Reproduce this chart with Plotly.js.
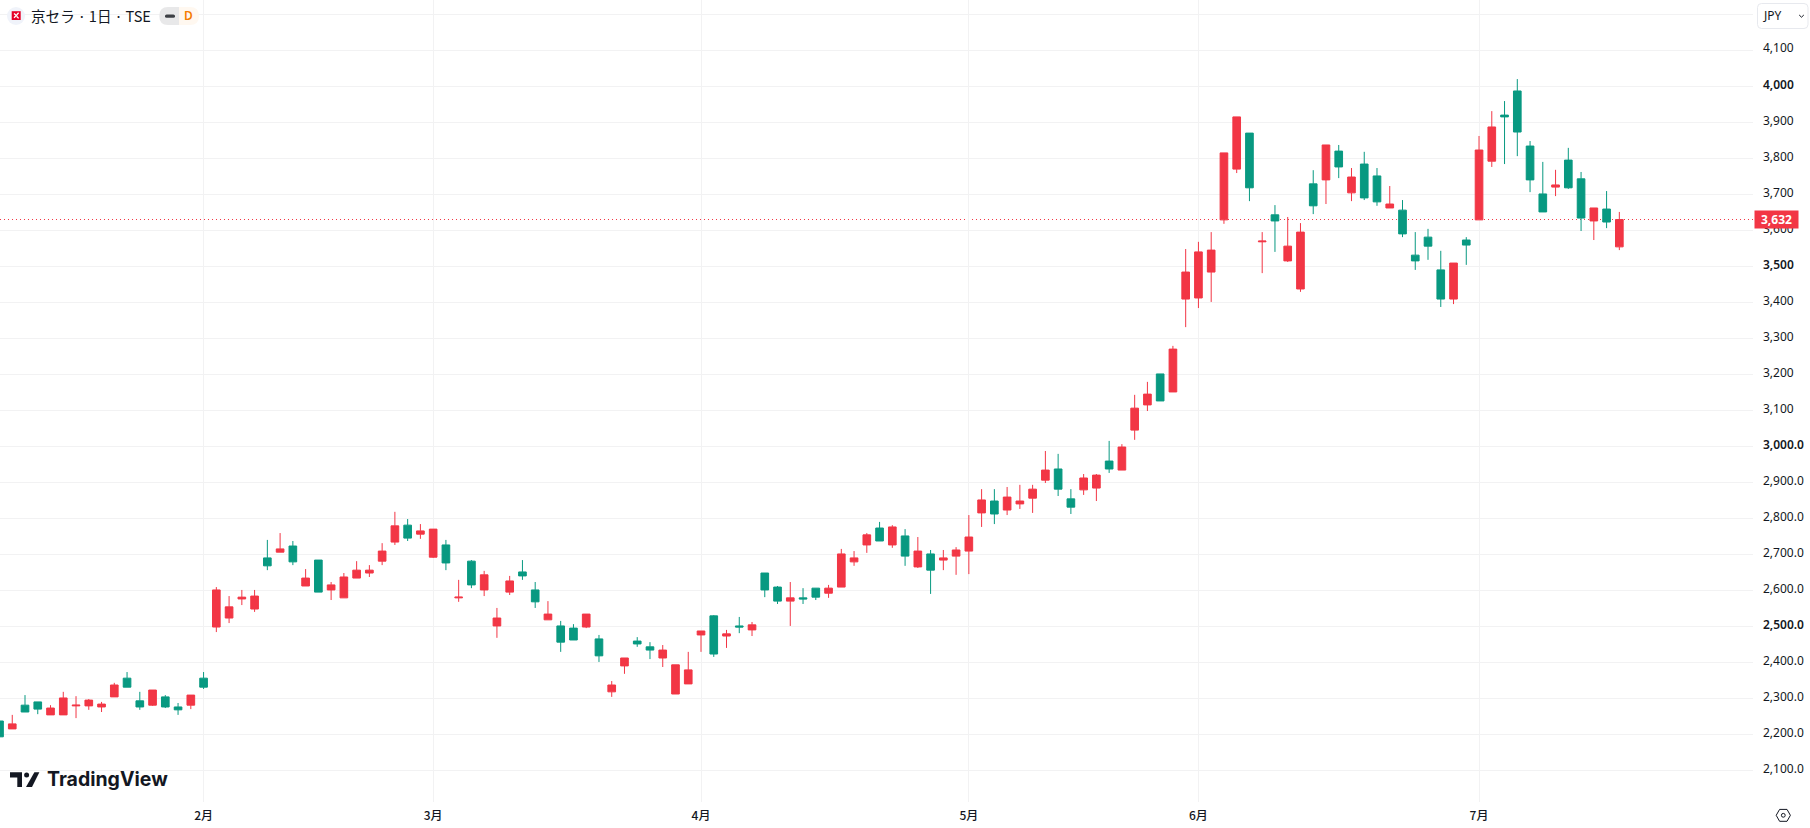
<!DOCTYPE html>
<html>
<head>
<meta charset="utf-8">
<script src="https://cdn.plot.ly/plotly-3.0.1.min.js"></script>
<style>html,body{margin:0;padding:0;background:#fff;overflow:hidden}#chart{width:1810px;height:828px}</style>
</head>
<body>
<div id="chart"></div>
<script>
const open = [
2237,2215,2281,2290,2254,2254,2279,2279,2276,2304,
2356,2293,2281,2304,2276,2281,2356,2498,2523,2576,
2548,2690,2706,2723,2612,2684,2601,2579,2634,2648,
2681,2734,2781,2756,2692,2726,2579,2681,2601,2501,
2595,2651,2601,2518,2501,2495,2498,2465,2318,2390,
2459,2443,2412,2312,2340,2476,2529,2473,2501,2490,
2648,2609,2570,2579,2606,2592,2609,2679,2726,2773,
2726,2751,2665,2701,2684,2695,2709,2815,2848,2823,
2840,2856,2906,2937,2854,2879,2884,2959,2934,3045,
3115,3201,3151,3409,3412,3484,3629,3770,3870,3568,
3643,3515,3437,3729,3740,3820,3704,3784,3751,3662,
3656,3531,3581,3490,3409,3573,3629,3792,3920,3987,
3834,3701,3720,3795,3743,3626,3659,3554];
const close = [
2193,2229,2262,2270,2273,2301,2281,2295,2284,2337,
2331,2276,2323,2276,2268,2309,2331,2601,2554,2581,
2584,2668,2715,2679,2634,2595,2615,2637,2656,2656,
2709,2779,2745,2765,2770,2676,2581,2615,2643,2523,
2626,2640,2568,2534,2456,2462,2534,2418,2337,2412,
2451,2434,2434,2393,2379,2487,2423,2479,2498,2504,
2601,2570,2579,2576,2581,2606,2701,2690,2754,2737,
2776,2695,2709,2656,2690,2712,2748,2851,2812,2859,
2848,2881,2934,2881,2831,2912,2920,2937,2998,3106,
3145,3126,3270,3484,3540,3545,3815,3915,3718,3570,
3626,3556,3595,3668,3837,3776,3748,3690,3679,3673,
3590,3515,3556,3409,3509,3559,3823,3887,3915,3873,
3740,3651,3726,3718,3634,3662,3623,3630];
const high = [
2237,2254,2309,2290,2281,2318,2306,2298,2290,2343,
2373,2318,2323,2309,2287,2309,2373,2609,2584,2601,
2601,2740,2759,2737,2659,2684,2623,2648,2681,2670,
2731,2818,2798,2784,2770,2740,2629,2684,2654,2551,
2640,2684,2623,2570,2515,2506,2534,2476,2348,2412,
2470,2456,2448,2393,2429,2487,2531,2490,2526,2512,
2648,2612,2623,2606,2606,2615,2715,2709,2759,2790,
2781,2770,2748,2712,2712,2720,2809,2881,2881,2887,
2893,2893,2987,2979,2881,2923,2923,3015,3006,3143,
3179,3201,3279,3548,3568,3595,3815,3915,3870,3595,
3670,3637,3620,3767,3837,3837,3773,3818,3773,3723,
3684,3595,3604,3543,3509,3581,3862,3931,3959,4020,
3848,3790,3768,3829,3762,3662,3709,3651];
const low = [
2192,2215,2262,2256,2254,2254,2245,2268,2262,2304,
2331,2268,2279,2273,2254,2270,2326,2484,2509,2559,
2540,2656,2706,2670,2612,2595,2573,2579,2634,2637,
2670,2726,2737,2743,2690,2656,2568,2606,2584,2468,
2587,2629,2551,2518,2429,2462,2495,2401,2304,2368,
2443,2409,2387,2312,2340,2429,2415,2440,2481,2473,
2581,2562,2501,2562,2573,2579,2609,2668,2704,2737,
2718,2668,2662,2590,2656,2643,2645,2776,2784,2809,
2826,2815,2898,2862,2812,2865,2848,2926,2934,3018,
3098,3126,3151,3331,3384,3401,3618,3759,3681,3481,
3540,3512,3429,3645,3673,3745,3681,3684,3668,3662,
3581,3490,3518,3387,3395,3504,3629,3776,3784,3806,
3706,3651,3695,3715,3598,3573,3606,3545];

const monthBars = [16,34,55,76,94,116];
const monthLabels = ['2月','3月','4月','5月','6月','7月'];
const priceTicks = [4200,4100,4000,3900,3800,3700,3600,3500,3400,3300,3200,3100,3000,2900,2800,2700,2600,2500,2400,2300,2200,2100];
const strong = s => '<span style="font-weight:600">' + s + '</span>';
const priceLabels = ['','4,100',strong('4,000'),'3,900','3,800','3,700','3,600',strong('3,500'),'3,400','3,300','3,200','3,100',strong('3,000.0'),'2,900.0','2,800.0','2,700.0','2,600.0',strong('2,500.0'),'2,400.0','2,300.0','2,200.0','2,100.0'];
const lastLine = 3630;
const lastLabel = '3,632';
const headerText = '京セラ\u2009·\u20091日\u2009·\u2009TSE';

const RED = '#F23645', GREEN = '#089981', INK = '#131722', GRID = '#f2f2f3';
const PW = 1753, PH = 802;           // plot area in page pixels
const MR = 1810 - PW, MB = 828 - PH;
const px = x => x / PW, py = y => 1 - y / PH;
const pt = (x, y) => px(x) + ' ' + py(y);

function pathShape(d, fill, line, lw) {
  return {type:'path', xref:'paper', yref:'paper', path:d, fillcolor:fill||'rgba(0,0,0,0)',
          line:{color:line||'rgba(0,0,0,0)', width:lw||0}, layer:'above'};
}
function roundRect(x0,y0,x1,y1,r){
  return 'M'+pt(x0+r,y0)+' L'+pt(x1-r,y0)+' Q'+pt(x1,y0)+' '+pt(x1,y0+r)+' L'+pt(x1,y1-r)+' Q'+pt(x1,y1)+' '+pt(x1-r,y1)+
         ' L'+pt(x0+r,y1)+' Q'+pt(x0,y1)+' '+pt(x0,y1-r)+' L'+pt(x0,y0+r)+' Q'+pt(x0,y0)+' '+pt(x0+r,y0)+' Z';
}
function poly(points){ return 'M'+points.map(p=>pt(p[0],p[1])).join(' L')+' Z'; }
function circle(cx,cy,r,fill,line,lw){
  return {type:'circle', xref:'paper', yref:'paper', x0:px(cx-r), x1:px(cx+r), y0:py(cy+r), y1:py(cy-r),
          fillcolor:fill||'rgba(0,0,0,0)', line:{color:line||'rgba(0,0,0,0)', width:lw||0}, layer:'above'};
}
function label(text,x,y,size,opts){
  return Object.assign({text:text, xref:'paper', yref:'paper', x:px(x), y:py(y), xanchor:'left', yanchor:'middle',
    showarrow:false, borderpad:0, font:{family:'"Noto Sans CJK JP","Noto Sans",sans-serif', size:size, color:INK}}, opts||{});
}

const shapes = [
  {type:'line', xref:'paper', x0:0, x1:1, yref:'y', y0:lastLine, y1:lastLine, layer:'below',
   line:{color:RED, width:1, dash:'1px,3px'}},
  // symbol icon
  circle(16,16,9,'#f0f3fa'),
  pathShape(poly([[11.7,11.2],[20.7,11.2],[20.7,20],[11.7,20]]),'#e60027'),
  pathShape('M'+pt(14,13.4)+' L'+pt(16.4,15.6)+' L'+pt(14,17.8),'rgba(0,0,0,0)','#ffffff',1.3),
  pathShape('M'+pt(18.6,12.8)+' L'+pt(16.6,15)+' M'+pt(16.6,16.2)+' L'+pt(18.6,18.4),'rgba(0,0,0,0)','#ffffff',1.3),
  // market status pill
  pathShape('M'+pt(179,7)+' L'+pt(168,7)+' Q'+pt(159.3,7)+' '+pt(159.3,16)+' Q'+pt(159.3,25)+' '+pt(168,25)+' L'+pt(179,25)+' Z','#e8e8e9'),
  pathShape('M'+pt(179,7)+' L'+pt(190,7)+' Q'+pt(199,7)+' '+pt(199,16)+' Q'+pt(199,25)+' '+pt(190,25)+' L'+pt(179,25)+' Z','#fff8f0'),
  pathShape(roundRect(165,14.4,175,17.8,1.6),'#3d4045'),
  // currency button
  pathShape(roundRect(1757.5,3.5,1808,28.5,4),'#ffffff','#e7e9ee',1),
  pathShape('M'+pt(1799.2,15)+' L'+pt(1801.5,17.2)+' L'+pt(1803.8,15),'rgba(0,0,0,0)',INK,1),
  // settings icon
  pathShape(poly([[1776.2,815.3],[1779.6,809.4],[1787,809.4],[1790.4,815.3],[1787,821.3],[1779.6,821.3]]),'#ffffff',INK,1),
  circle(1783.3,815.3,1.9,'#ffffff',INK,1),
  // TradingView mark
  pathShape(poly([[10,772.3],[22,772.3],[22,787],[17.3,787],[17.3,777.4],[10,777.4]]),'#131722'),
  circle(26.6,775,2.5,'#131722'),
  pathShape(poly([[34.4,772.3],[39.4,772.3],[32,787],[26,787]]),'#131722')
];

const annotations = [
  label(headerText,29.5,16,14.6),
  label('D',188,16,12,{xanchor:'center', font:{family:'"Noto Sans",sans-serif', size:12, color:'#f57c00', weight:600}}),
  label('JPY',1761.5,15.7,12,{font:{family:'"Noto Sans",sans-serif', size:12, color:INK}}),
  label('TradingView',46.3,779.3,19.5,{font:{family:'Inter,"Noto Sans",sans-serif', size:19.5, color:'#131722', weight:700}}),
  {text:'<b>'+lastLabel+'</b>', xref:'paper', yref:'y', x:1, y:lastLine, xanchor:'left', yanchor:'middle', xshift:1,
   showarrow:false, bgcolor:RED, width:43, height:17, borderpad:0, align:'center',
   font:{family:'"Noto Sans",sans-serif', size:12, color:'#ffffff'}}
];

const data = [{
  type:'candlestick',
  x: open.map((_, i) => i),
  open: open, high: high, low: low, close: close,
  increasing:{line:{color:RED, width:1}, fillcolor:RED},
  decreasing:{line:{color:GREEN, width:1}, fillcolor:GREEN},
  whiskerwidth:0,
  hoverinfo:'skip'
}];

const layout = {
  width:1810, height:828,
  margin:{l:0, r:MR, t:0, b:MB, pad:0},
  paper_bgcolor:'#ffffff', plot_bgcolor:'#ffffff',
  showlegend:false, hovermode:false, dragmode:false,
  boxgap:0.4, boxgroupgap:0,
  xaxis:{
    type:'linear', range:[0.0392,137.48], rangeslider:{visible:false},
    tickmode:'array', tickvals:monthBars, ticktext:monthLabels,
    showgrid:true, gridcolor:GRID, gridwidth:1, zeroline:false, showline:false, ticks:'', ticklabelstandoff:5,
    tickfont:{family:'"Noto Sans CJK JP","Noto Sans",sans-serif', size:12, color:INK, weight:500}
  },
  yaxis:{
    type:'linear', side:'right', range:[2012,4239.7],
    tickmode:'array', tickvals:priceTicks, ticktext:priceLabels,
    showgrid:true, gridcolor:GRID, gridwidth:1, zeroline:false, showline:false, ticks:'', ticklabelstandoff:9, ticklabelshift:-2,
    tickfont:{family:'"Noto Sans",sans-serif', size:12, color:INK}
  },
  shapes:shapes, annotations:annotations
};
Plotly.newPlot('chart', data, layout, {displayModeBar:false, staticPlot:true});
</script>
</body>
</html>
